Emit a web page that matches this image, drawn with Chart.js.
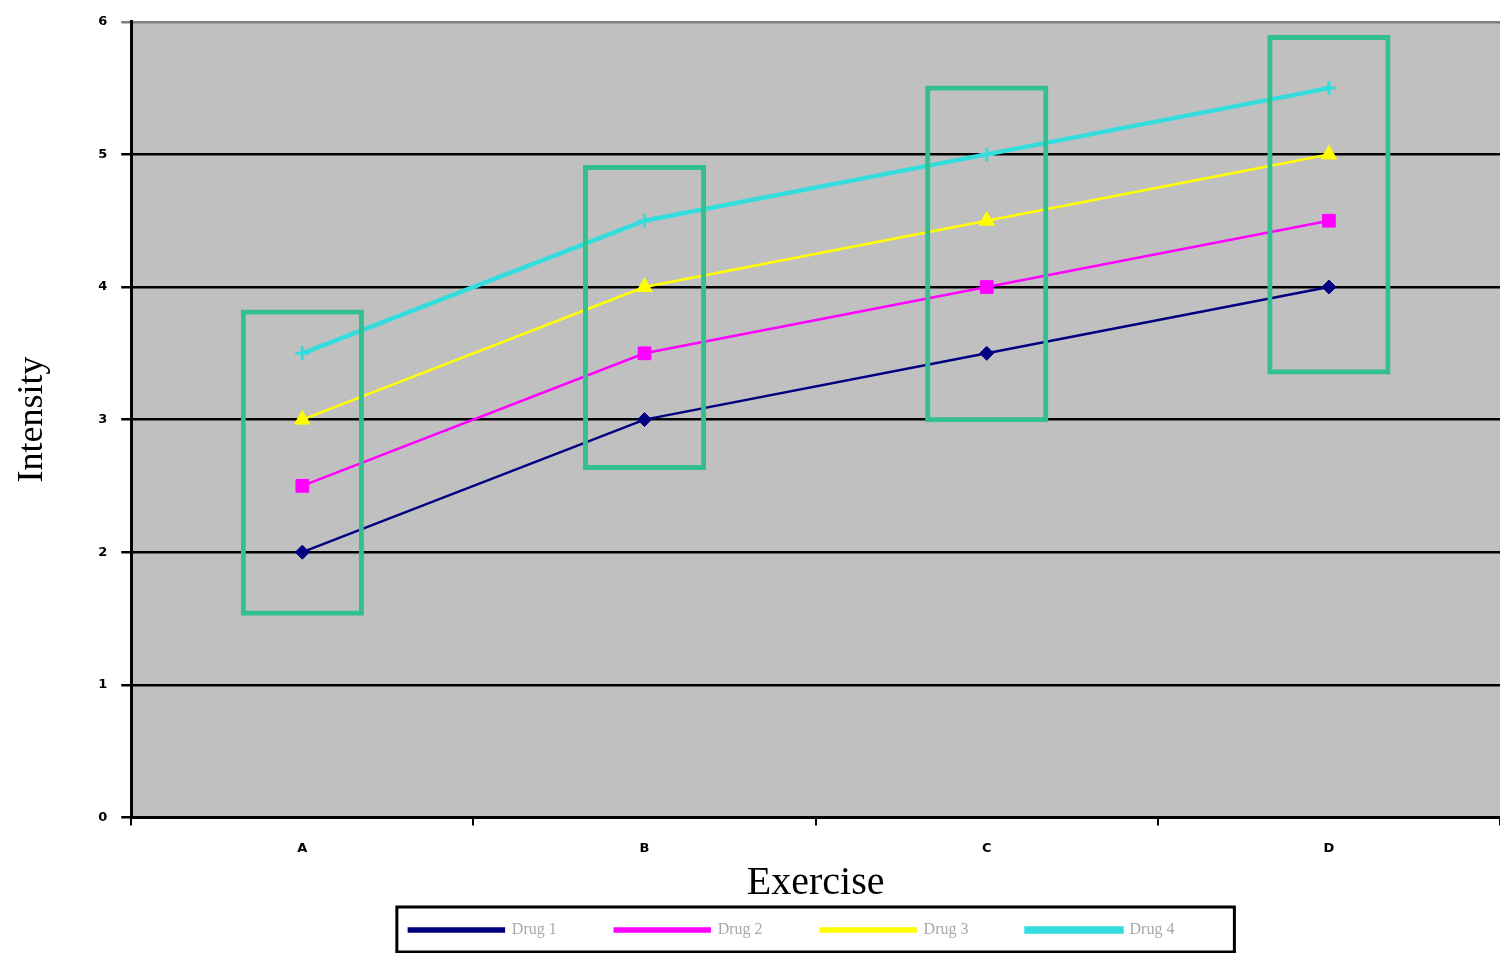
<!DOCTYPE html>
<html lang="en">
<head>
    <meta charset="UTF-8" />
    <title>Intensity by Exercise</title>
    <script src="https://cdn.jsdelivr.net/npm/chart.js"></script>
    <style>
        body {
            margin: 0;
            padding: 0;
            background-color: #ffffff;
        }

        .chart-container {
            width: 1500px;
            height: 953px;
            position: relative;
        }
    </style>
</head>
<body>
    <div class="chart-container">
        <canvas id="intensityChart"></canvas>
    </div>

    <script>
        const exercises = ['A', 'B', 'C', 'D'];
        const drug1 = [2, 3, 3.5, 4];
        const drug2 = [2.5, 3.5, 4, 4.5];
        const drug3 = [3, 4, 4.5, 5];
        const drug4 = [3.5, 4.5, 5, 5.5];
        // low / high edge of the green box around each exercise
        const boxLow = [1.52, 2.62, 2.98, 3.34];
        const boxHigh = [3.83, 4.92, 5.52, 5.9];

        const seriesNames = ['Drug 1', 'Drug 2', 'Drug 3', 'Drug 4'];
        const seriesData = [drug1, drug2, drug3, drug4];
        const colors = ['#000080', '#ff00ff', '#ffff00', '#33dddd'];
        const pointStyles = ['rectRot', 'rect', 'triangle', 'cross'];
        const pointSizes = [7, 9, 9, 7];
        const lineWidths = [2.5, 2.5, 2.5, 4.5];

        const lineSets = seriesNames.map((name, i) => ({
            type: 'line',
            label: name,
            data: seriesData[i],
            borderColor: colors[i],
            backgroundColor: colors[i],
            pointBackgroundColor: colors[i],
            pointBorderColor: colors[i],
            pointStyle: pointStyles[i],
            pointRadius: pointSizes[i],
            pointBorderWidth: i === 3 ? 3 : 1,
            borderWidth: lineWidths[i],
            tension: 0,
            fill: false,
            order: 1
        }));

        const boxSet = {
            type: 'bar',
            label: 'box',
            data: boxLow.map((lo, i) => [lo, boxHigh[i]]),
            backgroundColor: 'rgba(0,0,0,0)',
            borderColor: '#33c08f',
            borderWidth: 5,
            borderSkipped: false,
            barPercentage: 0.36,
            categoryPercentage: 1,
            order: 0
        };

        // gray plot background
        const plotBackground = {
            id: 'plotBackground',
            beforeDraw(chart) {
                const { ctx, chartArea } = chart;
                ctx.save();
                ctx.fillStyle = '#c0c0c0';
                ctx.fillRect(chartArea.left, chartArea.top, chartArea.right - chartArea.left, chartArea.bottom - chartArea.top);
                ctx.restore();
            }
        };

        // black frame round the legend
        const legendFrame = {
            id: 'legendFrame',
            afterDraw(chart) {
                const boxes = chart.legend.legendHitBoxes;
                if (!boxes || !boxes.length) return;
                let left = Infinity, right = -Infinity, top = Infinity, bottom = -Infinity;
                boxes.forEach(b => {
                    left = Math.min(left, b.left);
                    right = Math.max(right, b.left + b.width);
                    top = Math.min(top, b.top);
                    bottom = Math.max(bottom, b.top + b.height);
                });
                const ctx = chart.ctx;
                ctx.save();
                ctx.strokeStyle = '#000000';
                ctx.lineWidth = 3;
                ctx.strokeRect(left - 12, top - 15, right - left + 24, bottom - top + 29);
                ctx.restore();
            }
        };

        const ctx = document.getElementById('intensityChart').getContext('2d');

        new Chart(ctx, {
            type: 'bar',
            data: {
                labels: exercises,
                datasets: [boxSet, ...lineSets]
            },
            plugins: [plotBackground, legendFrame],
            options: {
                responsive: true,
                maintainAspectRatio: false,
                animation: false,
                layout: {
                    autoPadding: false,
                    padding: { top: 20, right: 0, left: 11, bottom: 5 }
                },
                scales: {
                    x: {
                        offset: true,
                        // let the plot run to the right edge
                        afterFit: (scale) => { scale.paddingRight = 0; },
                        grid: {
                            offset: true,
                            drawOnChartArea: false,
                            drawTicks: true,
                            tickLength: 8,
                            color: '#000000',
                            lineWidth: 2
                        },
                        border: { display: true, color: '#000000', width: 3 },
                        ticks: {
                            color: '#000000',
                            font: { family: 'DejaVu Sans', size: 13, weight: 'bold' },
                            padding: 15
                        },
                        title: {
                            display: true,
                            text: 'Exercise',
                            color: '#000000',
                            font: { family: 'Liberation Serif', size: 40, lineHeight: 1 },
                            padding: { top: -8, bottom: 9 }
                        }
                    },
                    y: {
                        min: 0,
                        max: 6,
                        ticks: {
                            stepSize: 1,
                            color: '#000000',
                            font: { family: 'DejaVu Sans', size: 13, weight: 'bold' },
                            padding: 14
                        },
                        grid: {
                            color: (c) => c.tick && c.tick.value === 6 ? '#808080' : '#000000',
                            lineWidth: 2.5,
                            drawTicks: true,
                            tickLength: 10
                        },
                        border: { display: true, color: '#000000', width: 3 },
                        title: {
                            display: true,
                            text: 'Intensity',
                            color: '#000000',
                            font: { family: 'Liberation Serif', size: 36 },
                            padding: { top: 0, bottom: 30 }
                        }
                    }
                },
                plugins: {
                    legend: {
                        display: true,
                        position: 'bottom',
                        fullSize: false,
                        labels: {
                            // pad the label text so the entries spread out like the original
                            generateLabels: (chart) => Chart.defaults.plugins.legend.labels.generateLabels(chart)
                                .filter(item => item.datasetIndex !== 0)
                                .map(item => ({ ...item, text: item.text + '\u2003\u2003\u2003' })),
                            boxWidth: 95,
                            boxHeight: 3,
                            padding: 10,
                            color: '#a8a8a8',
                            font: { family: 'Liberation Serif', size: 16 }
                        }
                    },
                    tooltip: { enabled: false }
                }
            }
        });
    </script>
</body>
</html>
